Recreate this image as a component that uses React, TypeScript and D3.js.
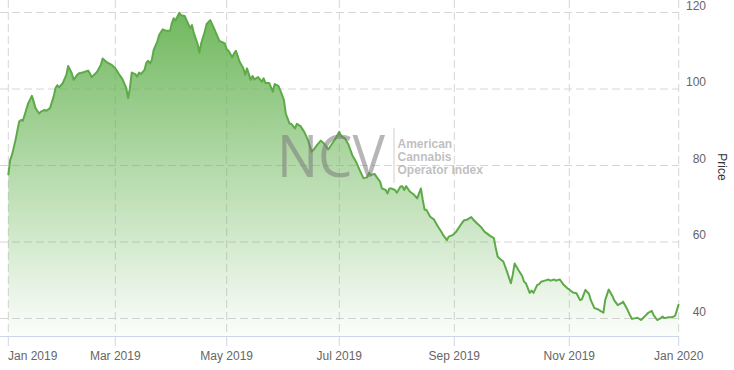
import React from "react";
import * as d3 from "d3";

// ---- data ----
const baseDate = new Date(2019, 0, 1);
const dayOffsets = [
  0, 1, 2, 4, 6, 7, 8, 9, 11, 13, 14, 15, 17, 18, 20, 21, 23, 25, 26, 27, 28, 30, 32, 33, 35, 36, 38, 39, 41, 44,
  45, 46, 49, 51, 52, 54, 57, 59, 61, 63, 65, 66, 67, 68, 70, 71, 72, 73, 75, 76, 77, 78, 79, 80, 82, 83, 85, 87,
  89, 90, 91, 92, 94, 95, 97, 98, 100, 101, 102, 104, 105, 106, 108, 109, 111, 113, 115, 116, 119, 120, 121, 123,
  124, 125, 127, 129, 130, 131, 133, 134, 135, 137, 139, 140, 141, 143, 145, 146, 148, 149, 151, 152, 154, 155,
  157, 158, 160, 162, 164, 166, 167, 169, 171, 173, 175, 176, 179, 181, 182, 184, 186, 188, 190, 192, 194, 196,
  197, 198, 200, 201, 203, 204, 206, 207, 208, 209, 211, 212, 214, 215, 216, 217, 219, 221, 223, 225, 226, 227,
  228, 230, 232, 234, 236, 237, 239, 240, 242, 244, 246, 248, 250, 252, 253, 255, 257, 259, 262, 264, 265, 266,
  267, 269, 271, 273, 274, 275, 277, 279, 280, 281, 283, 284, 285, 287, 288, 289, 291, 293, 294, 296, 297, 298,
  299, 301, 303, 304, 306, 308, 310, 311, 313, 315, 316, 318, 320, 323, 324, 326, 328, 329, 331, 333, 334, 336,
  338, 339, 341, 342, 344, 346, 348, 350, 351, 353, 355, 356, 357, 359, 361, 363, 364, 365,
];
const prices = [
  77.5, 81.4, 82.7, 86.7, 91.5, 91.9, 91.7, 93.2, 96.3, 98.2, 96.7, 95.0, 93.6, 94.1, 94.5, 94.3, 95.0, 98.0, 100.2,
  101.0, 100.4, 101.5, 103.7, 106.0, 104.1, 102.4, 103.7, 104.1, 104.3, 104.8, 104.1, 103.1, 104.5, 106.3, 108.0,
  107.1, 106.3, 105.4, 103.9, 102.5, 100.2, 97.6, 100.2, 104.3, 103.9, 103.2, 104.3, 103.9, 105.0, 106.9, 107.4,
  106.7, 107.6, 110.2, 112.4, 114.1, 115.6, 115.2, 115.2, 117.3, 118.5, 117.9, 119.9, 119.3, 119.1, 118.0, 115.9,
  116.7, 114.6, 111.9, 109.5, 111.9, 115.0, 117.0, 118.0, 115.9, 113.7, 112.6, 111.9, 110.4, 110.0, 108.3, 109.3,
  110.0, 107.1, 105.4, 103.7, 105.4, 102.4, 103.4, 102.5, 103.1, 101.9, 102.8, 101.6, 101.6, 99.3, 101.3, 100.8,
  99.7, 97.1, 93.6, 91.0, 90.9, 89.7, 90.9, 90.3, 88.8, 86.7, 83.6, 84.1, 85.4, 86.5, 85.6, 84.2, 84.9, 87.1, 88.8,
  87.7, 87.1, 85.4, 82.7, 81.0, 78.8, 76.7, 76.9, 78.1, 77.5, 77.8, 77.1, 75.8, 74.0, 73.6, 72.7, 74.0, 74.0, 73.6,
  72.9, 74.5, 74.6, 73.6, 74.6, 73.2, 72.5, 71.4, 74.0, 71.0, 68.4, 68.4, 66.6, 65.9, 64.2, 62.7, 61.8, 60.5, 61.4,
  61.8, 62.7, 64.2, 65.6, 65.9, 66.5, 65.9, 64.9, 64.0, 62.7, 61.6, 61.0, 58.4, 56.2, 55.7, 54.9, 52.2, 49.2, 51.4,
  54.4, 52.7, 51.1, 49.6, 49.2, 46.7, 47.3, 46.7, 48.8, 49.0, 49.6, 49.9, 50.2, 49.9, 50.2, 49.9, 50.1, 50.2, 48.8,
  47.9, 47.6, 46.8, 46.6, 44.8, 45.0, 47.5, 46.4, 44.8, 42.7, 42.4, 41.5, 44.8, 47.6, 45.9, 44.8, 43.5, 44.0, 44.4,
  42.7, 40.7, 39.9, 40.1, 40.2, 39.6, 40.5, 41.5, 42.0, 40.9, 39.6, 40.1, 40.5, 40.1, 40.3, 40.3, 40.7, 42.2, 43.8,
];
const tickDates = [
  new Date(2019, 0, 1),
  new Date(2019, 2, 1),
  new Date(2019, 4, 1),
  new Date(2019, 6, 1),
  new Date(2019, 8, 1),
  new Date(2019, 10, 1),
  new Date(2020, 0, 1),
];
const tickLabels = ["Jan 2019", "Mar 2019", "May 2019", "Jul 2019", "Sep 2019", "Nov 2019", "Jan 2020"];
const yTicks = [40, 60, 80, 100, 120];
const yAxisTitle = "Price";
const watermarkMain = "NCV";
const watermarkLines = ["American", "Cannabis", "Operator Index"];

// ---- layout ----
const W = 734;
const H = 370;
const plotLeft = 0;
const plotRight = 679;
const plotTop = 0;
const plotBottom = 336;

// ordinal-like axis: tick positions as placed in the reference
const tickPx = [8.3, 115.3, 226.7, 339.3, 454.3, 569.3, 678.7];

const data = dayOffsets.map((d, i) => ({ date: d3.timeDay.offset(baseDate, d), value: prices[i] }));

export default function App() {
  const x = d3.scaleTime().domain(tickDates).range(tickPx);
  const y = d3.scaleLinear().domain([40, 120]).range([318.5, 12.5]);

  const line = d3
    .line<{ date: Date; value: number }>()
    .x((d) => x(d.date))
    .y((d) => y(d.value));
  const area = d3
    .area<{ date: Date; value: number }>()
    .x((d) => x(d.date))
    .y0(plotBottom)
    .y1((d) => y(d.value));

  const font = "'Liberation Sans', Arial, sans-serif";
  const green = "rgb(100,178,80)";

  return (
    <svg
      width={W}
      height={H}
      style={{ position: "absolute", left: 0, top: 0, display: "block", background: "#fff" }}
    >
      <defs>
        <linearGradient id="fillGrad" gradientUnits="userSpaceOnUse" x1="0" y1="12" x2="0" y2={plotBottom}>
          <stop offset="0" stopColor={green} stopOpacity={0.92} />
          <stop offset="1" stopColor={green} stopOpacity={0.02} />
        </linearGradient>
      </defs>

      {/* horizontal grid */}
      {yTicks.map((t) => (
        <line
          key={"hg" + t}
          x1={plotLeft}
          x2={plotRight}
          y1={y(t)}
          y2={y(t)}
          stroke="#d6d6d6"
          strokeWidth={1}
          strokeDasharray="8,4"
        />
      ))}
      {/* vertical grid */}
      {tickDates.map((d, i) => (
        <line
          key={"vg" + i}
          x1={x(d)}
          x2={x(d)}
          y1={plotTop}
          y2={plotBottom}
          stroke="#d6d6d6"
          strokeWidth={1}
          strokeDasharray="8,4"
        />
      ))}

      {/* series */}
      <path d={area(data) || ""} fill="url(#fillGrad)" />
      <path d={line(data) || ""} fill="none" stroke="#5eaa48" strokeWidth={2} strokeLinejoin="round" />

      {/* watermark */}
      <text
        x={277}
        y={176.5}
        fontFamily="'Open Sans', Lato, sans-serif"
        fontWeight={400}
        fontSize={58}
        textLength={108}
        lengthAdjust="spacingAndGlyphs"
        fill="#7a7a7a"
        fillOpacity={0.55}
      >
        {watermarkMain}
      </text>
      <line x1={394} x2={394} y1={128} y2={183} stroke="#cfcfcf" strokeWidth={1} />
      {watermarkLines.map((s, i) => (
        <text
          key={s}
          x={397.5}
          y={147.5 + i * 13}
          fontFamily={font}
          fontWeight="bold"
          fontSize={12}
          fill="#b4b4b4"
          fillOpacity={0.85}
        >
          {s}
        </text>
      ))}

      {/* x axis */}
      <line x1={plotLeft} x2={plotRight} y1={plotBottom + 0.5} y2={plotBottom + 0.5} stroke="#ccd6eb" strokeWidth={1} />
      {tickDates.map((d, i) => (
        <line
          key={"tk" + i}
          x1={x(d)}
          x2={x(d)}
          y1={plotBottom}
          y2={plotBottom + 10}
          stroke="#ccd6eb"
          strokeWidth={1}
        />
      ))}
      {tickDates.map((d, i) => (
        <text
          key={"tl" + i}
          x={i === 0 ? x(d) - 0.3 : x(d)}
          y={360}
          textAnchor={i === 0 ? "start" : "middle"}
          fontFamily={font}
          fontSize={12}
          fill="#666666"
        >
          {tickLabels[i]}
        </text>
      ))}

      {/* y axis labels (right) */}
      {yTicks.map((t) => (
        <text
          key={"yl" + t}
          x={706}
          y={y(t) - 3}
          textAnchor="end"
          fontFamily={font}
          fontSize={12}
          fill="#666666"
        >
          {t}
        </text>
      ))}
      <text
        transform={`translate(718,167) rotate(90)`}
        textAnchor="middle"
        fontFamily={font}
        fontSize={12}
        fill="#333333"
      >
        {yAxisTitle}
      </text>
    </svg>
  );
}
